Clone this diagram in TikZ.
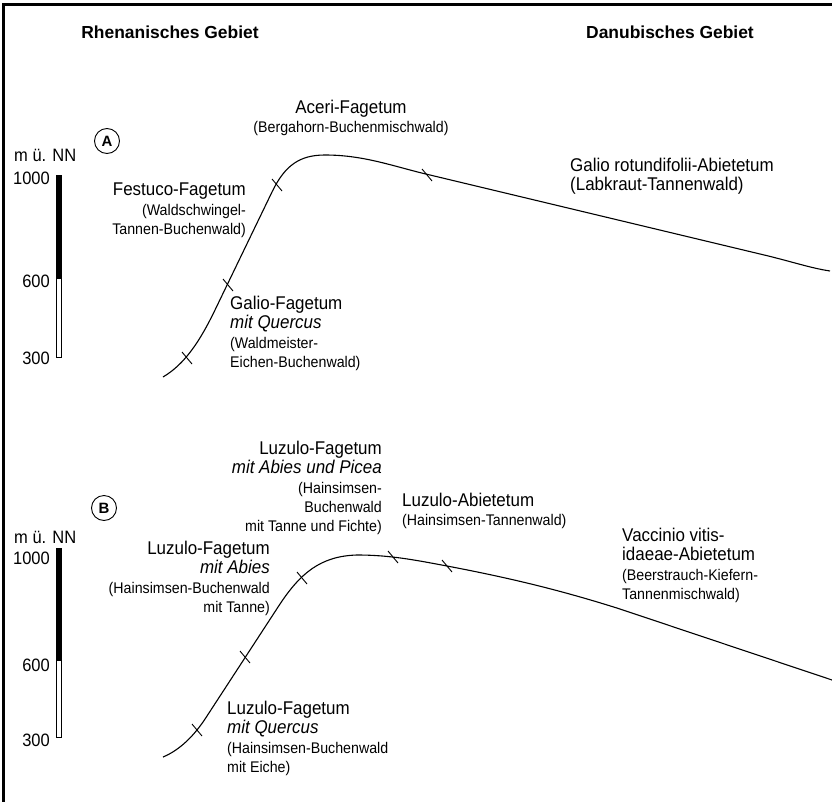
\documentclass[tikz,border=0pt]{standalone}
\usepackage{fontspec}
\setmainfont{Liberation Sans}[FakeStretch=0.92]
\newfontfamily\headfont{Liberation Sans}
\usepackage{tikz}

\tikzset{
  lbl/.style={inner sep=0pt, font=\fontsize{18.5}{19.3}\selectfont},
  scl/.style={inner sep=0pt, font=\fontsize{18}{19}\selectfont},
  head/.style={inner sep=0pt, font=\headfont\fontsize{17.5}{20}\selectfont\bfseries},
  panel/.style={draw, circle, line width=0.9bp, minimum size=25bp, inner sep=0pt, font=\headfont\fontsize{15}{15}\selectfont\bfseries},
  profile/.style={line width=1.1bp},
  tick/.style={line width=0.9bp}
}
\newcommand{\sublbl}[1]{{\fontsize{15.5}{19.3}\selectfont #1}}

\begin{document}
\begin{tikzpicture}[x=1bp, y=-1bp]
\useasboundingbox (0,0) rectangle (832,802);
%
\draw [line width=3bp] (3,802) -- (3,5) -- (832,5);
%
\node [head] (rhen) at (170,32) {Rhenanisches Gebiet};
\node [head] (danu) at (670,32) {Danubisches Gebiet};
%%%%%%%%%%%%%%%% A
\node [panel] (pA) at (107,141) {A};
\node [scl, anchor=west] (nnA) at (14,155) {m ü. NN};
\node [scl, anchor=east] (hiA) at (50,178) {1000};
\node [scl, anchor=east] (miA) at (50,281) {600};
\node [scl, anchor=east] (loA) at (50,358) {300};
\draw [line width=0.8bp, fill=black] (56.5,175) rectangle (61.5,278);
\draw [line width=0.8bp, fill=white] (56.5,278) rectangle (61.5,357);
%
\draw [profile] (163,377) .. controls (185,364) and (200,341) .. (215,310) -- (272,192)
  .. controls (285,165) and (300,155) .. (325,155)
  .. controls (365,155) and (395,167) .. (430,175) -- (760,254)
  .. controls (790,261) and (810,268) .. (830,271);
\foreach \x/\y in {187/358, 228/285, 277/185, 427/175}
  \draw [tick] (\x-5,\y-6) -- (\x+5,\y+6);
%
\node [lbl, align=center, anchor=north] (aceri) at (351,100) {Aceri-Fagetum\\ \sublbl{(Bergahorn-Buchenmischwald)}};
\node [lbl, align=right, anchor=north east] (festuco) at (246,183) {Festuco-Fagetum\\ \sublbl{(Waldschwingel-}\\ \sublbl{Tannen-Buchenwald)}};
\node [lbl, align=left, anchor=north west] (galioA) at (230,296) {Galio-Fagetum\\ \textit{mit Quercus}\\ \sublbl{(Waldmeister-}\\ \sublbl{Eichen-Buchenwald)}};
\node [lbl, align=left, anchor=north west] (galioR) at (570,158) {Galio rotundifolii-Abietetum\\ (Labkraut-Tannenwald)};
%%%%%%%%%%%%%%%% B
\node [panel] (pB) at (104,508) {B};
\node [scl, anchor=west] (nnB) at (14,537) {m ü. NN};
\node [scl, anchor=east] (hiB) at (50,558) {1000};
\node [scl, anchor=east] (miB) at (50,665) {600};
\node [scl, anchor=east] (loB) at (50,740) {300};
\draw [line width=0.8bp, fill=black] (56.5,548) rectangle (61.5,660);
\draw [line width=0.8bp, fill=white] (56.5,660) rectangle (61.5,737);
%
\draw [profile] (163,757) .. controls (180,750) and (195,735) .. (207,716) -- (280,604)
  .. controls (300,574) and (320,556) .. (357,555)
  .. controls (390,555) and (415,560) .. (447,566)
  .. controls (510,578) and (560,590) .. (620,609) -- (832,680);
\foreach \x/\y in {197/730, 245/657, 302/578, 393/557, 447/566}
  \draw [tick] (\x-5,\y-6) -- (\x+5,\y+6);
%
\node [lbl, align=right, anchor=north east] (luzPic) at (382,441) {Luzulo-Fagetum\\ \textit{mit Abies und Picea}\\ \sublbl{(Hainsimsen-}\\ \sublbl{Buchenwald}\\ \sublbl{mit Tanne und Fichte)}};
\node [lbl, align=right, anchor=north east] (luzAb) at (270,541) {Luzulo-Fagetum\\ \textit{mit Abies}\\ \sublbl{(Hainsimsen-Buchenwald}\\ \sublbl{mit Tanne)}};
\node [lbl, align=left, anchor=north west] (luzQu) at (227,701) {Luzulo-Fagetum\\ \textit{mit Quercus}\\ \sublbl{(Hainsimsen-Buchenwald}\\ \sublbl{mit Eiche)}};
\node [lbl, align=left, anchor=north west] (luzAbiet) at (402,493) {Luzulo-Abietetum\\ \sublbl{(Hainsimsen-Tannenwald)}};
\node [lbl, align=left, anchor=north west] (vacc) at (622,528) {Vaccinio vitis-\\ idaeae-Abietetum\\ \sublbl{(Beerstrauch-Kiefern-}\\ \sublbl{Tannenmischwald)}};
%%%%%%%%%%%%%%%%%%%%%%%%%%%%%%%
\end{tikzpicture}
\end{document}
